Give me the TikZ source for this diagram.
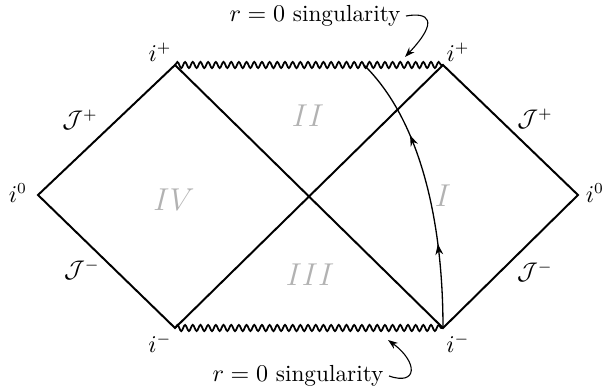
\documentclass[tikz,border=0pt]{standalone}
\usetikzlibrary{decorations.pathmorphing,decorations.markings,arrows.meta}
\tikzset{
	horizon/.style={line width=0.9pt},
	sing/.style={line width=0.8pt,decorate,decoration={snake,segment length=3.5pt,amplitude=1.4pt}},
	region/.style={gray!60,font=\fontsize{15.2}{18}\selectfont},
	curlyarrow/.style={line width=0.5pt,-{Stealth[length=4.5pt,width=3.2pt]}},
	worldline/.style={line width=0.6pt,postaction={decorate},
		decoration={markings,
			mark=at position 0.3 with {\arrow{Stealth[length=5pt,width=3.5pt]}},
			mark=at position 0.7 with {\arrow{Stealth[length=5pt,width=3.5pt]}}}}
}
\begin{document}
\begin{tikzpicture}[x=0.016cm,y=-0.016cm,every node/.style={font=\fontsize{10.6}{12.7}\selectfont}]
	\useasboundingbox (0,0) rectangle (605,388);
	% corners
	\coordinate (il) at (38,195);
	\coordinate (ir) at (578,195);
	\coordinate (tl) at (175,65);
	\coordinate (tr) at (443,65);
	\coordinate (bl) at (175,328);
	\coordinate (br) at (443,328);
	\coordinate (hit) at (364,65);
	% boundaries
	\draw[horizon] (il) -- (tl) -- (br) -- (ir) -- (tr) -- (bl) -- cycle;
	\draw[sing] (tl) -- (tr);
	\draw[sing] (bl) -- (br);
	% infall
	\draw[worldline] (br) .. controls (443,220) and (420,120) .. (hit);
	% labels
	\node (ipl) at (160,52) {$i^+$};
	\node (ipr) at (458,52) {$i^+$};
	\node (iml) at (160,343) {$i^-$};
	\node (imr) at (458,343) {$i^-$};
	\node (i0l) at (18,193) {$i^0$};
	\node (i0r) at (595,193) {$i^0$};
	\node (jpl) at (80,120) {$\mathcal{J}^+$};
	\node (jml) at (82,270) {$\mathcal{J}^-$};
	\node (jpr) at (535,119) {$\mathcal{J}^+$};
	\node (jmr) at (535,272) {$\mathcal{J}^-$};
	\node[region] (rI) at (443,196) {$I$};
	\node[region] (rII) at (308,116) {$II$};
	\node[region] (rIII) at (310,275) {$III$};
	\node[region] (rIV) at (174,200) {$IV$};
	% singularity
	\node (stop) at (315,16) {$r=0$ singularity};
	\node (sbot) at (298,376) {$r=0$ singularity};
	\coordinate (ptop) at (405,57);
	\coordinate (pbot) at (388,340);
	\draw[curlyarrow] ([xshift=-1pt]stop.east) .. controls (428,12) and (440,20) .. (ptop);
	\draw[curlyarrow] ([xshift=-1pt]sbot.east) .. controls (418,386) and (418,362) .. (pbot);
\end{tikzpicture}
\end{document}
